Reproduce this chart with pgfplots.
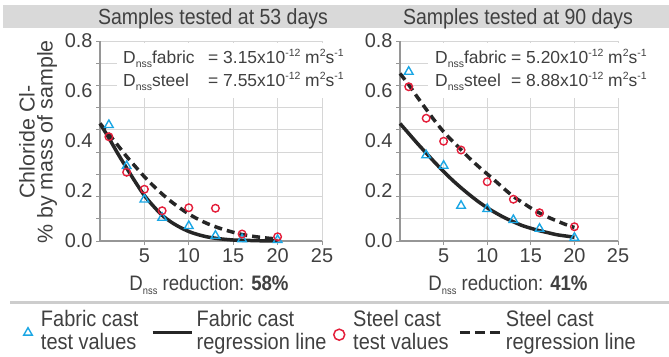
\documentclass[border=0pt]{standalone}
\usepackage{fontspec}
\setmainfont{Liberation Sans}
\usepackage{graphicx}
\usepackage{pgfplots}
\pgfplotsset{compat=1.18}

\definecolor{cyanc}{RGB}{26,166,228}
\definecolor{redc}{RGB}{228,30,58}
\definecolor{linec}{RGB}{38,38,38}
\definecolor{textc}{RGB}{64,64,64}
\definecolor{gridc}{RGB}{214,214,214}
\definecolor{axisc}{RGB}{150,150,150}
\definecolor{bandc}{RGB}{217,217,217}
\definecolor{sepc}{RGB}{205,205,205}

\newcommand\sq[1]{\scalebox{0.89}[1]{#1}}
\newcommand\sbs[1]{\raisebox{-4bp}{\fontsize{10.5}{10}\selectfont #1}}
\newcommand\sps[1]{\raisebox{6.5bp}{\fontsize{10.5}{10}\selectfont #1}}

\pgfplotsset{
  myaxis/.style={
    scale only axis, height=200bp,
    xmin=0, xmax=25, ymin=0, ymax=0.8,
    axis lines*=left,
    axis line style={-, draw=axisc, line width=1.2bp},
    tick align=outside, major tick length=4bp,
    tick style={draw=axisc, line width=1bp},
    xtick={5,10,15,20,25}, xticklabels={5,10,15,20,25},
    ytick={0,0.0888889,0.1777778,0.2666667,0.3555556,0.4444444,0.5333333,0.6222222,0.7111111,0.8},
    yticklabels={,,,,,,,,,},
    extra y ticks={0,0.2,0.4,0.6,0.8},
    extra y tick labels={0.0,0.2,0.4,0.6,0.8},
    extra y tick style={ymajorgrids=false, tick style={draw=none}},
    grid=major, major grid style={draw=gridc, line width=0.8bp},
    ticklabel style={font=\fontsize{20}{20}\selectfont, text=textc},
    clip=false,
    fabmark/.style={only marks, mark=triangle, mark size=5bp, mark options={draw=cyanc, fill=white, line width=1.4bp}},
    stlmark/.style={only marks, mark=o, mark size=3.8bp, mark options={draw=redc, line width=1.4bp}},
    fabline/.style={no marks, draw=linec, line width=3.5bp, smooth},
    stlline/.style={no marks, draw=linec, line width=3.5bp, smooth, dash pattern=on 8bp off 5bp},
  }
}

\begin{document}
\begin{tikzpicture}[x=1bp,y=1bp]
\useasboundingbox (0,0) rectangle (669,356);
% title band
\fill[bandc] (3,328) rectangle (669,351);
\node[anchor=base, text=textc, font=\fontsize{22}{22}\selectfont, inner sep=0pt] at (213,332) {\sq{Samples tested at 53 days}};
\node[anchor=base, text=textc, font=\fontsize{22}{22}\selectfont, inner sep=0pt] at (518,332) {\sq{Samples tested at 90 days}};
% y label
\node[rotate=90, text=textc, font=\fontsize{21.5}{21.5}\selectfont, inner sep=0pt] at (27,214) {Chloride Cl-};
\node[rotate=90, text=textc, font=\fontsize{21.5}{21.5}\selectfont, inner sep=0pt] at (47,214) {\% by mass of sample};

\begin{axis}[myaxis, at={(100bp,115bp)}, anchor=south west, width=222bp,
  legend columns=4, legend cell align=left,
  legend style={draw=none, fill=none, inner sep=0pt, outer sep=0pt, column sep=0pt, row sep=0pt,
    at={(-0.3604,-0.4215)}, anchor=west,
    nodes={inner sep=0pt, outer sep=0pt, text=textc, font=\fontsize{22.5}{21}\selectfont}}]
\addplot[fabmark, forget plot] coordinates {(1,0.464) (3,0.300) (5,0.166) (7,0.093) (10,0.060) (13,0.021) (16,0.007) (20,0.004)};
\addplot[stlmark, forget plot] coordinates {(1,0.417) (3,0.275) (5,0.207) (7,0.121) (10,0.133) (13,0.131) (16,0.028) (20,0.017)};
\addplot[fabline, forget plot] coordinates {(0,0.470) (1,0.412) (2,0.350) (3,0.292) (4,0.235) (5,0.182) (6,0.140) (7,0.103) (8,0.076) (9,0.055) (10,0.038) (11,0.026) (12,0.017) (13,0.011) (14,0.007) (15,0.004) (16,0.003) (18,0.001) (20,0.000)};
\addplot[stlline, forget plot] coordinates {(0,0.470) (1,0.427) (2,0.383) (3,0.338) (4,0.297) (5,0.257) (6,0.221) (7,0.188) (8,0.158) (9,0.132) (10,0.108) (11,0.088) (12,0.071) (13,0.057) (14,0.045) (15,0.035) (16,0.026) (17,0.020) (18,0.015) (19,0.011) (20,0.008)};
\addlegendimage{legend image code/.code={\path[draw=none,fill=none] (-8bp,-14bp) rectangle (13bp,0bp); \draw[cyanc, line width=1.4bp, fill=white] plot[only marks, mark=triangle, mark size=5bp] coordinates {(0bp,-7.7bp)};}}
\addlegendimage{legend image code/.code={\path[draw=none,fill=none] (0bp,-14bp) rectangle (44bp,0bp); \draw[linec, line width=3.5bp] (0bp,-7.7bp) -- (39bp,-7.7bp);}}
\addlegendimage{legend image code/.code={\path[draw=none,fill=none] (-5bp,-14bp) rectangle (14bp,0bp); \draw[redc, line width=1.5bp] plot[only marks, mark=o, mark size=5.5bp] coordinates {(0bp,-9.7bp)};}}
\addlegendimage{legend image code/.code={\path[draw=none,fill=none] (0bp,-14bp) rectangle (46bp,0bp); \draw[linec, line width=3.5bp, dash pattern=on 10bp off 5bp] (0bp,-7.7bp) -- (40bp,-7.7bp);}}
\legend{{\makebox[110bp][l]{\sq{\begin{tabular}{@{}l@{}}Fabric cast\\test values\end{tabular}}}},
        {\makebox[137bp][l]{\sq{\begin{tabular}{@{}l@{}}Fabric cast\\regression line\end{tabular}}}},
        {\makebox[105bp][l]{\sq{\begin{tabular}{@{}l@{}}Steel cast\\test values\end{tabular}}}},
        {\makebox[140bp][l]{\sq{\begin{tabular}{@{}l@{}}Steel cast\\regression line\end{tabular}}}}}
\end{axis}

\begin{axis}[myaxis, at={(400bp,115bp)}, anchor=south west, width=218bp]
\addplot[fabmark] coordinates {(1,0.677) (3,0.343) (5,0.301) (7,0.141) (10,0.128) (13,0.084) (16,0.049) (20,0.013)};
\addplot[stlmark] coordinates {(1,0.617) (3,0.491) (5,0.399) (7,0.364) (10,0.237) (13,0.167) (16,0.113) (20,0.057)};
\addplot[fabline] coordinates {(0,0.470) (1,0.430) (2,0.390) (3,0.352) (4,0.314) (5,0.278) (6,0.244) (7,0.213) (8,0.184) (9,0.157) (10,0.133) (11,0.112) (12,0.093) (13,0.077) (14,0.062) (15,0.051) (16,0.041) (17,0.033) (18,0.025) (19,0.020) (20,0.015)};
\addplot[stlline] coordinates {(0,0.670) (1,0.625) (2,0.575) (3,0.527) (4,0.480) (5,0.437) (6,0.400) (7,0.365) (8,0.330) (9,0.298) (10,0.268) (11,0.238) (12,0.207) (13,0.178) (14,0.155) (15,0.132) (16,0.112) (17,0.095) (18,0.080) (19,0.066) (20,0.054)};
\end{axis}

% annotation boxes
\fill[white] (117,258) rectangle (352,313);
\fill[white] (428,258) rectangle (662,313);
\begin{scope}[every node/.style={anchor=base west, inner sep=0pt, text=textc, font=\fontsize{17.5}{18}\selectfont}]
\node at (123,293) {D\sbs{nss}fabric};
\node at (208,293) {= 3.15x10\sps{-12} m\sps{2}s\sps{-1}};
\node at (123,270) {D\sbs{nss}steel};
\node at (208,270) {= 7.55x10\sps{-12} m\sps{2}s\sps{-1}};
\node at (435,293) {D\sbs{nss}fabric};
\node at (511,293) {= 5.20x10\sps{-12} m\sps{2}s\sps{-1}};
\node at (435,270) {D\sbs{nss}steel};
\node at (511,270) {= 8.88x10\sps{-12} m\sps{2}s\sps{-1}};
\end{scope}
% reduction labels
\node[anchor=base, inner sep=0pt, text=textc, font=\fontsize{21}{21}\selectfont] at (209,66) {\sq{D\sbs{nss} reduction: \textbf{58\%}}};
\node[anchor=base, inner sep=0pt, text=textc, font=\fontsize{21}{21}\selectfont] at (508,66) {\sq{D\sbs{nss} reduction: \textbf{41\%}}};
% legend separator
\draw[sepc, line width=3bp] (10,54) -- (669,54);
\end{tikzpicture}
\end{document}
